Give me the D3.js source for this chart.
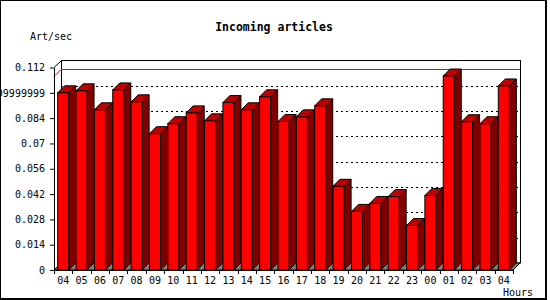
<!DOCTYPE html>
<html>
<head>
<meta charset="utf-8">
<script src="https://cdn.jsdelivr.net/npm/d3@7"></script>
<style>
  body { margin: 0; background: #fff; }
  svg text { font-family: "DejaVu Sans Mono", monospace; }
</style>
</head>
<body>
<div id="chart"></div>
<script>
const hours = ["04","05","06","07","08","09","10","11","12","13","14","15","16",
               "17","18","19","20","21","22","23","00","01","02","03","04"];
const articles = [0.0980, 0.0991, 0.0886, 0.0996, 0.0930, 0.0754, 0.0809, 0.0869, 0.0825,
                  0.0926, 0.0886, 0.0958, 0.0821, 0.0847, 0.0908, 0.0463, 0.0324, 0.0368,
                  0.0406, 0.0246, 0.0412, 0.1073, 0.0820, 0.0809, 0.1018];
const yTicks = [0, 0.014, 0.028, 0.042, 0.056, 0.07, 0.084, 0.098, 0.112];
const yTickLabels = ["0", "0.014", "0.028", "0.042", "0.056", "0.07", "0.084", "0.09999999", "0.112"];

const width = 550, height = 300;
const depth = 7; // 3d offset
const left = 54, right = 513, bottom = 270;

const svg = d3.select("#chart").append("svg")
    .attr("width", width)
    .attr("height", height);

// frame round the image
svg.append("rect").attr("x", 0).attr("y", 0).attr("width", 547).attr("height", 1).attr("fill", "#000");
svg.append("rect").attr("x", 0).attr("y", 0).attr("width", 1).attr("height", 300).attr("fill", "#000");
svg.append("rect").attr("x", 545).attr("y", 0).attr("width", 2).attr("height", 300).attr("fill", "#000");
svg.append("rect").attr("x", 0).attr("y", 298).attr("width", 547).attr("height", 2).attr("fill", "#000");

const x = d3.scaleBand()
    .domain(d3.range(hours.length))
    .range([left, right])
    .padding(0);

const y = d3.scaleLinear()
    .domain([0, 0.112])
    .range([bottom, 67.5]);

const backTop = y(0.112) - depth;
const backBottom = bottom - depth;

// back wall
svg.append("rect")
    .attr("x", left + depth + 0.5)
    .attr("y", backTop)
    .attr("width", right + depth - left - depth)
    .attr("height", backBottom - backTop)
    .attr("fill", "#fff")
    .attr("stroke", "#000")
    .attr("stroke-width", 1);

// dotted grid lines on the back wall
svg.append("g")
    .selectAll("line")
    .data(yTicks.filter(d => d > 0 && d < 0.112))
    .enter()
    .append("line")
    .attr("x1", left + depth)
    .attr("x2", right + depth)
    .attr("y1", d => Math.round(y(d) - depth) + 0.5)
    .attr("y2", d => Math.round(y(d) - depth) + 0.5)
    .attr("stroke", "#000")
    .attr("stroke-dasharray", "2,3");

// max line
const maxVal = d3.max(articles);
const my = Math.round(y(maxVal)) + 0.5;
svg.append("path")
    .attr("d", `M${left},${my} L${left + depth},${my - depth} L${right + depth},${my - depth}`)
    .attr("fill", "none")
    .attr("stroke", "#ff0000");

// floor
svg.append("path")
    .attr("d", `M${left},${bottom} L${left + depth},${backBottom} L${right + depth},${backBottom} L${right},${bottom} Z`)
    .attr("fill", "#808080")
    .attr("stroke", "#000");

// left wall edges
svg.append("path")
    .attr("d", `M${left},${y(0.112)} L${left + depth + 0.5},${backTop}`)
    .attr("fill", "none")
    .attr("stroke", "#000");

// bars
const barW = x.bandwidth() * 0.6;
const bars = svg.append("g")
    .selectAll("g")
    .data(articles)
    .enter()
    .append("g");

bars.each(function (d, i) {
    const g = d3.select(this);
    const x0 = x(i) + (x.bandwidth() - barW) / 2;
    const x1 = x0 + barW;
    const yt = y(d);
    // side
    g.append("path")
        .attr("d", `M${x1},${yt} L${x1 + depth},${yt - depth} L${x1 + depth},${backBottom} L${x1},${bottom} Z`)
        .attr("fill", "#800000")
        .attr("stroke", "#000");
    // top
    g.append("path")
        .attr("d", `M${x0},${yt} L${x0 + depth},${yt - depth} L${x1 + depth},${yt - depth} L${x1},${yt} Z`)
        .attr("fill", "#c00000")
        .attr("stroke", "#000");
    // front
    g.append("rect")
        .attr("x", x0)
        .attr("y", yt)
        .attr("width", barW)
        .attr("height", bottom - yt)
        .attr("fill", "#ff0000")
        .attr("stroke", "#000");
});

// y axis
const yAxis = svg.append("g")
    .attr("transform", `translate(${left},0)`)
    .call(d3.axisLeft(y)
        .tickValues(yTicks)
        .tickFormat((d, i) => yTickLabels[i])
        .tickSize(4)
        .tickSizeOuter(0)
        .tickPadding(5));
yAxis.select(".domain").attr("stroke", "#000");
yAxis.selectAll("line").attr("stroke", "#000");
yAxis.selectAll("text")
    .style("font-size", "10px")
    .style("font-family", "'DejaVu Sans Mono', monospace")
    .attr("fill", "#000");

// x axis
const xAxis = svg.append("g")
    .attr("transform", `translate(0,${bottom})`)
    .call(d3.axisBottom(x)
        .tickFormat(i => hours[i])
        .tickSize(0)
        .tickSizeOuter(0));
xAxis.select(".domain").attr("stroke", "#000");
xAxis.selectAll("text")
    .attr("y", 10)
    .attr("dy", "0.35em")
    .style("font-size", "10px")
    .style("font-family", "'DejaVu Sans Mono', monospace")
    .attr("fill", "#000");

svg.append("g")
    .selectAll("line")
    .data(d3.range(hours.length + 1))
    .enter()
    .append("line")
    .attr("x1", i => Math.round(left + i * x.step()) + 0.5)
    .attr("x2", i => Math.round(left + i * x.step()) + 0.5)
    .attr("y1", bottom)
    .attr("y2", bottom + 4)
    .attr("stroke", "#000");

// titles
svg.append("text")
    .attr("x", 274)
    .attr("y", 31)
    .attr("text-anchor", "middle")
    .style("font-size", "11.5px")
    .style("font-weight", "bold")
    .text("Incoming articles");

svg.append("text")
    .attr("x", 30)
    .attr("y", 40)
    .style("font-size", "10px")
    .text("Art/sec");

svg.append("text")
    .attr("x", 533)
    .attr("y", 292)
    .attr("dy", "0.35em")
    .attr("text-anchor", "end")
    .style("font-size", "10px")
    .text("Hours");
</script>
</body>
</html>
